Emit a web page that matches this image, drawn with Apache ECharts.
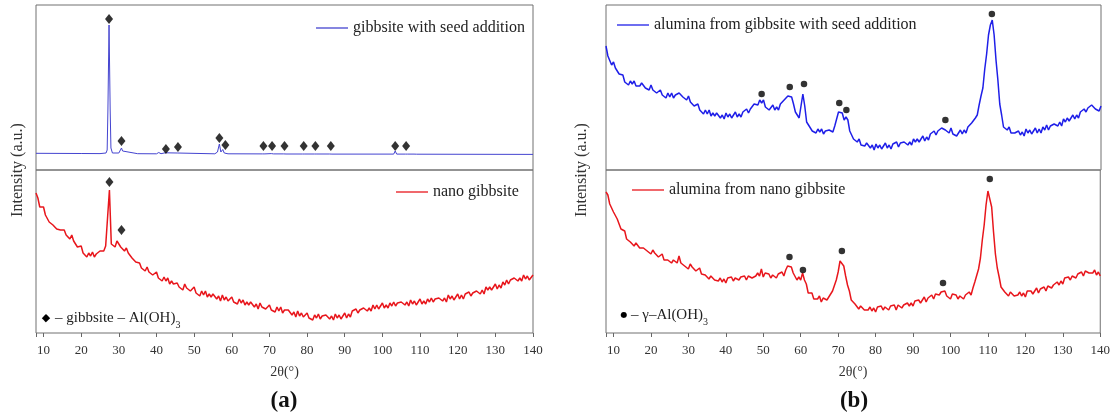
<!DOCTYPE html>
<html>
<head>
<meta charset="utf-8">
<script src="https://cdn.jsdelivr.net/npm/echarts@6/dist/echarts.min.js"></script>
<style>
  html, body { margin: 0; padding: 0; background: #fff; }
  #main { width: 1113px; height: 417px; }
</style>
</head>
<body>
<div id="main"></div>
<script>
// 2θ sampling of the noisy scans: 8° .. 140° every 0.5°
var thetaStart = 8, thetaStep = 0.5;

// (a) top: gibbsite with seed addition, [2θ, intensity] (smooth trace)
var seedGibbsite = [
  [8, 16.7], [20, 16.5], [25, 16.4], [26.6, 17], [26.9, 20], [27.1, 60], [27.4, 145], [27.7, 60], [27.9, 22],
  [28.3, 17], [30, 17], [30.4, 19], [30.7, 22], [31.0, 19], [31.5, 17], [35, 16.3], [40, 16.2], [40.6, 17.5],
  [41.2, 16.3], [42.3, 17.2], [42.8, 16.2], [45.5, 17], [46, 16.2], [55.5, 16.2], [56.2, 18], [56.7, 26],
  [57.1, 18], [57.6, 20.5], [58, 17], [59, 16.2], [68.2, 16.1], [68.5, 18], [68.8, 16.1], [70.5, 16.4],
  [70.8, 17.5], [71.1, 16.1], [73.8, 16.1], [74.1, 17.2], [74.4, 16], [78.8, 16], [79.1, 17.2], [79.4, 16],
  [82, 16], [82.3, 17.5], [82.6, 16], [86, 16], [86.3, 17.2], [86.6, 15.9], [103, 15.9], [103.4, 19],
  [103.8, 15.9], [106.1, 15.9], [106.4, 17], [106.7, 15.9], [108.4, 15.9], [108.7, 17.3], [109.1, 15.8], [140, 15.6]
];
var seedGibbsiteMarks = [
  [27.4, 151], [30.7, 29], [42.5, 21], [45.7, 23], [56.7, 32], [58.3, 25], [68.4, 24], [70.7, 24],
  [74.0, 24], [79.1, 24], [82.2, 24], [86.3, 24], [103.4, 24], [106.3, 24]
];

// (a) bottom: nano gibbsite
var nanoGibbsite = [
  140,135,126,125,126,118,118,111,113,108,110,104,106,103,105,103,98,99,94,98,
  92,93,86,86,87,80,81,76,80,77,81,76,79,78,82,84,82,87,89,143,
  89,88,86,92,93,86,88,82,85,80,82,75,75,71,72,70,65,67,62,66,
  61,63,58,59,61,55,57,52,56,52,55,49,52,49,51,50,46,48,43,49,
  45,47,42,43,46,40,42,37,42,38,42,36,39,36,39,38,34,37,32,38,
  33,36,32,33,36,31,33,29,34,30,33,28,31,28,31,31,26,29,24,30,
  26,28,24,26,28,23,25,21,26,22,26,20,23,21,23,23,18,21,16,22,
  17,20,16,17,20,15,17,13,18,15,19,14,17,15,18,18,14,17,13,19,
  15,18,14,16,20,15,19,16,22,20,24,20,23,22,25,26,22,25,22,28,
  24,28,24,26,30,25,28,25,30,27,31,27,30,28,31,32,28,31,27,33,
  29,32,28,31,34,29,32,29,34,31,35,31,34,32,35,36,32,35,31,38,
  34,37,33,36,39,34,38,34,39,37,41,37,40,39,42,43,39,43,39,46,
  43,46,43,45,49,44,48,45,51,48,53,49,53,51,55,55,52,55,52,58,
  54,57,53,55,58
];
var nanoGibbsiteMarks = [[27.5, 151], [30.7, 103]];

// (b) top: alumina from gibbsite with seed addition
var seedAlumina = [
  124,114,112,105,108,102,103,96,95,95,88,90,85,89,86,89,84,86,84,87,
  86,82,84,80,85,80,82,77,78,80,75,77,72,77,73,77,72,75,74,77,
  77,73,75,70,74,68,69,64,64,66,60,62,56,60,56,60,54,57,54,57,
  56,52,55,51,57,53,56,52,54,58,53,56,53,58,56,61,57,61,61,66,
  67,65,70,67,70,63,65,60,62,65,60,63,60,66,64,70,68,74,74,73,
  66,58,57,52,64,76,64,48,45,45,39,41,37,41,38,41,36,39,37,40,
  41,38,44,45,58,58,57,50,53,50,39,38,31,33,28,31,25,27,24,27,
  26,22,25,20,26,22,25,21,23,27,22,25,21,26,24,28,23,27,25,28,
  29,25,28,25,31,28,31,28,30,34,29,33,30,36,34,39,35,39,38,42,
  43,40,42,37,42,36,38,34,37,40,36,40,37,43,41,47,45,52,55,65,
  74,82,101,116,135,145,150,135,110,90,66,55,43,45,40,43,37,39,37,39,
  39,35,38,34,41,37,40,36,39,42,37,41,37,43,40,45,40,44,43,46,
  47,44,48,44,51,48,52,49,51,55,51,55,52,58,56,61,58,62,61,65,
  65,61,63,59,64
];
var seedAluminaMarks = [[49.5, 76], [57.0, 83], [60.8, 86], [70.2, 67], [72.1, 60], [98.5, 50], [110.9, 156]];

// (b) bottom: alumina from nano gibbsite
var nanoAlumina = [
  141,138,129,129,121,121,114,112,104,103,102,94,95,91,93,87,90,90,85,87,
  85,87,82,84,79,83,80,81,76,78,79,73,75,73,75,70,73,74,70,77,
  70,72,67,69,64,69,66,67,62,64,65,59,61,58,60,54,57,57,53,54,
  52,55,51,54,50,55,53,56,52,55,57,53,56,54,57,53,57,58,55,57,
  57,60,57,64,56,60,58,59,55,58,60,55,59,57,61,57,63,67,65,66,
  60,59,53,56,53,60,53,49,40,40,40,34,36,34,37,31,35,36,33,36,
  37,42,43,53,61,72,74,67,57,48,42,33,33,29,30,24,27,27,23,25,
  23,26,22,25,21,26,24,27,23,26,28,23,27,25,28,23,28,29,25,28,
  27,30,27,30,27,32,31,33,30,33,36,31,35,34,38,34,39,41,38,41,
  40,42,37,39,34,39,37,38,34,37,39,34,38,37,41,38,45,51,53,64,
  75,93,108,128,142,144,126,101,79,65,56,46,45,41,43,37,41,41,37,39,
  38,41,37,40,36,42,40,42,39,42,45,40,44,43,46,42,47,48,45,48,
  48,51,48,52,49,55,54,56,53,57,59,55,59,58,61,57,62,63,60,62,
  60,63,58,61,57
];
var nanoAluminaMarks = [[57.0, 76], [60.6, 63], [71.0, 82], [98.0, 50], [110.5, 154]];

var seriesNames = ['gibbsite with seed addition', 'nano gibbsite',
                   'alumina from gibbsite with seed addition', 'alumina from nano gibbsite'];

function pairs(values) {
  return values.map(function (v, i) { return [thetaStart + i * thetaStep, v]; });
}

var serif = '"Liberation Serif", "Times New Roman", serif';
var blueA = '#4444d0', blueB = '#1f1fe8', red = '#e8161c';

var chart = echarts.init(document.getElementById('main'), null, { renderer: 'canvas' });

function xAxisFor(grid, labelled) {
  return {
    type: 'value', gridIndex: grid, min: 8, max: 140,
    minInterval: 10, maxInterval: 10, splitNumber: 13,
    show: labelled,
    axisLine: { show: false },
    axisTick: { show: labelled, inside: false, length: 4, lineStyle: { color: '#666' } },
    splitLine: { show: false },
    axisLabel: {
      show: labelled, color: '#333', fontSize: 13, fontFamily: serif, margin: 11,
      formatter: function (v) { return v % 10 === 0 ? String(v) : ''; }
    },
    name: labelled ? '2θ(°)' : '', nameLocation: 'middle', nameGap: 32,
    nameTextStyle: { color: '#333', fontSize: 14, fontFamily: serif }
  };
}
function yAxisFor(grid, max) {
  return { type: 'value', gridIndex: grid, min: 0, max: max, show: false, splitLine: { show: false } };
}
function legendFor(name, left, top) {
  return {
    data: [{ name: name, icon: 'rect' }], left: left, top: top, padding: 0,
    itemWidth: 32, itemHeight: 1.3, itemGap: 0,
    textStyle: { fontFamily: serif, fontSize: 16, color: '#222' },
    selectedMode: false
  };
}
function traceSeries(name, idx, data, color, width) {
  return {
    name: name, type: 'line', xAxisIndex: idx, yAxisIndex: idx, data: data,
    symbol: 'none', smooth: false, lineStyle: { color: color, width: width }, itemStyle: { color: color },
    z: 2
  };
}
function markSeries(idx, data, symbol, size) {
  return {
    type: 'scatter', xAxisIndex: idx, yAxisIndex: idx, data: data,
    symbol: symbol, symbolSize: size, itemStyle: { color: '#000' }, z: 3
  };
}

var gridStyle = { show: true, borderColor: '#707070', borderWidth: 1, backgroundColor: 'transparent' };

var option = {
  animation: false,
  backgroundColor: '#fff',
  grid: [
    Object.assign({ left: 36, width: 497, top: 5, height: 165 }, gridStyle),
    Object.assign({ left: 36, width: 497, top: 170, height: 163 }, gridStyle),
    Object.assign({ left: 606, width: 495, top: 5, height: 165 }, gridStyle),
    Object.assign({ left: 606, width: 495, top: 170, height: 163 }, gridStyle)
  ],
  xAxis: [xAxisFor(0, false), xAxisFor(1, true), xAxisFor(2, false), xAxisFor(3, true)],
  yAxis: [yAxisFor(0, 165), yAxisFor(1, 163), yAxisFor(2, 165), yAxisFor(3, 163)],
  legend: [
    legendFor(seriesNames[0], 316, 20),
    legendFor(seriesNames[1], 396, 184),
    legendFor(seriesNames[2], 617, 17),
    legendFor(seriesNames[3], 632, 182)
  ],
  series: [
    traceSeries(seriesNames[0], 0, seedGibbsite, blueA, 1),
    markSeries(0, seedGibbsiteMarks, 'diamond', [8, 10]),
    traceSeries(seriesNames[1], 1, pairs(nanoGibbsite), red, 1.5),
    markSeries(1, nanoGibbsiteMarks, 'diamond', [8, 10]),
    traceSeries(seriesNames[2], 2, pairs(seedAlumina), blueB, 1.5),
    markSeries(2, seedAluminaMarks, 'circle', 6.5),
    traceSeries(seriesNames[3], 3, pairs(nanoAlumina), red, 1.5),
    markSeries(3, nanoAluminaMarks, 'circle', 6.5)
  ],
  graphic: [
    { type: 'text', x: 18, y: 170, rotation: Math.PI / 2,
      style: { text: 'Intensity (a.u.)', font: '16px ' + serif, fill: '#333', align: 'center', verticalAlign: 'middle' } },
    { type: 'text', x: 582, y: 170, rotation: Math.PI / 2,
      style: { text: 'Intensity (a.u.)', font: '16px ' + serif, fill: '#333', align: 'center', verticalAlign: 'middle' } },
    { type: 'text', x: 46, y: 318,
      style: { text: '◆', font: '11px "DejaVu Sans"', fill: '#000', align: 'center', verticalAlign: 'middle' } },
    { type: 'text', x: 55, y: 318,
      style: { text: '– gibbsite – Al(OH){s|3}', font: '15px ' + serif, fill: '#222', verticalAlign: 'middle',
               lineHeight: 24, rich: { s: { fontSize: 10, fontFamily: serif, lineHeight: 10, verticalAlign: 'bottom' } } } },
    { type: 'text', x: 624, y: 315,
      style: { text: '●', font: '8px "DejaVu Sans"', fill: '#000', align: 'center', verticalAlign: 'middle' } },
    { type: 'text', x: 631, y: 315,
      style: { text: '– γ–Al(OH){s|3}', font: '15px ' + serif, fill: '#222', verticalAlign: 'middle',
               lineHeight: 24, rich: { s: { fontSize: 10, fontFamily: serif, lineHeight: 10, verticalAlign: 'bottom' } } } },
    { type: 'text', x: 284, y: 401,
      style: { text: '(a)', font: 'bold 23px ' + serif, fill: '#111', align: 'center', verticalAlign: 'middle' } },
    { type: 'text', x: 854, y: 401,
      style: { text: '(b)', font: 'bold 23px ' + serif, fill: '#111', align: 'center', verticalAlign: 'middle' } }
  ]
};

chart.setOption(option);

window.onresize = function () {
  chart.resize();
};
</script>
</body>
</html>
